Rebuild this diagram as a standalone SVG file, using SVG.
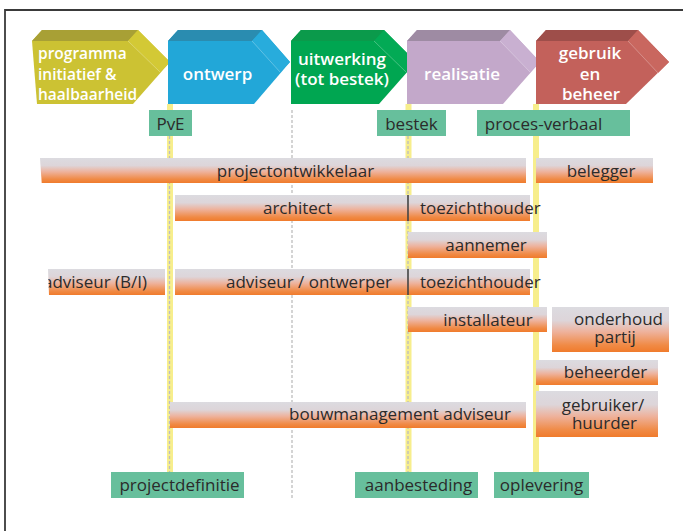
<svg xmlns="http://www.w3.org/2000/svg" width="683" height="531" viewBox="0 0 683 531">
<style>
.t{font-family:"Open Sans","Noto Sans","DejaVu Sans",sans-serif;font-size:17px;fill:#2b2b2b}
.w{font-family:"Open Sans","Noto Sans","DejaVu Sans",sans-serif;font-size:17px;fill:#ffffff;font-weight:600}
.m{text-anchor:middle}
.e{text-anchor:end}
.lbl{fill:#67bf9c}
.bar{fill:url(#g)}
.yl{stroke:#f7ee8c;stroke-width:6;fill:none}
.dl{stroke:#bdbdbd;stroke-width:1.3;stroke-dasharray:3 2;fill:none}
.sep{stroke:#444;stroke-width:1.6}
.fl{stroke:#ffffff;stroke-opacity:0.35;stroke-width:0.8;fill:none}
</style>
<defs>
<linearGradient id="g" x1="0" y1="0" x2="0" y2="1">
<stop offset="0" stop-color="#dcdbe0"/>
<stop offset="0.3" stop-color="#ddd5d9"/>
<stop offset="0.55" stop-color="#eeb29c"/>
<stop offset="0.85" stop-color="#f08a45"/>
<stop offset="1" stop-color="#f07b2c"/>
</linearGradient>
<clipPath id="cb"><polygon points="48,269 165,269 165,295 49,295"/></clipPath>
</defs>
<rect width="683" height="531" fill="#ffffff"/>
<path d="M5,531 V10 H683" fill="none" stroke="#3a3a3a" stroke-width="1.8"/>

<g id="phase1">
<polygon points="32,41 42,30 138,30 170,62 133,104 37,104" fill="#ccc233"/>
<polygon points="32,41 42,30 138,30 128,41" fill="#a8a035"/>
<polygon points="128,41 138,30 170,62 160,72" fill="#d3c935"/>
<line x1="128" y1="41" x2="160" y2="72" class="fl"/>
<text class="w" style="font-size:15.5px" x="38" y="59">programma</text>
<text class="w" style="font-size:15.5px" x="38" y="79.5">initiatief &amp;</text>
<text class="w" style="font-size:15.5px" x="38" y="100">haalbaarheid</text>
</g>
<g id="phase2">
<polygon points="168,41 178,30 262,30 290,62 254,104 168,104" fill="#22a7d8"/>
<polygon points="168,41 178,30 262,30 252,41" fill="#2a8cb0"/>
<polygon points="252,41 262,30 290,62 280,72" fill="#28acdc"/>
<line x1="252" y1="41" x2="280" y2="72" class="fl"/>
<text class="w m" x="217.5" y="80">ontwerp</text>
</g>
<g id="phase3">
<polygon points="291,41 301,30 384,30 416,62 379,104 291,104" fill="#00a651"/>
<polygon points="291,41 301,30 384,30 374,41" fill="#0b9a4b"/>
<polygon points="374,41 384,30 416,62 406,72" fill="#03aa55"/>
<line x1="374" y1="41" x2="406" y2="72" class="fl"/>
<text class="w m" x="342" y="65">uitwerking</text>
<text class="w m" x="342" y="85">(tot bestek)</text>
</g>
<g id="phase4">
<polygon points="407,41 417,30 510,30 540,62 503,104 407,104" fill="#c3a8ca"/>
<polygon points="407,41 417,30 510,30 500,41" fill="#9e8ba3"/>
<polygon points="500,41 510,30 540,62 530,72" fill="#c9b0d1"/>
<line x1="500" y1="41" x2="530" y2="72" class="fl"/>
<text class="w m" x="462" y="80">realisatie</text>
</g>
<g id="phase5">
<polygon points="536,41 546,30 638,30 669,62 626,104 536,104" fill="#c3615b"/>
<polygon points="536,41 546,30 638,30 628,41" fill="#9e4e4a"/>
<polygon points="628,41 638,30 669,62 658,73" fill="#c9675f"/>
<line x1="628" y1="41" x2="658" y2="73" class="fl"/>
<text class="w m" x="590" y="59">gebruik</text>
<text class="w m" x="590" y="79.5">en</text>
<text class="w m" x="591" y="100">beheer</text>
</g>

<g id="connectors">
<line x1="170" y1="104" x2="170" y2="472" class="yl"/>
<line x1="169.5" y1="136" x2="169.5" y2="472" class="dl"/>
<line x1="408.5" y1="104" x2="408.5" y2="472" class="yl"/>
<line x1="408" y1="136" x2="408" y2="472" class="dl"/>
<line x1="536" y1="104" x2="536" y2="472" class="yl"/>
<line x1="292" y1="110" x2="292" y2="498" class="dl"/>
</g>

<g id="PvE"><rect class="lbl" x="149" y="110" width="43" height="26"/><text class="t m" x="170.5" y="129.5">PvE</text></g>
<g id="bestek"><rect class="lbl" x="377" y="110" width="69" height="26"/><text class="t m" x="411.5" y="129.5">bestek</text></g>
<g id="proces-verbaal"><rect class="lbl" x="477" y="110" width="153" height="26"/><text class="t m" x="543.5" y="129.5">proces-verbaal</text></g>

<g id="projectontwikkelaar"><polygon class="bar" points="40,158 526,158 526,183 41.7,183"/><text class="t m" x="295.5" y="177">projectontwikkelaar</text></g>
<g id="belegger"><rect class="bar" x="536" y="158" width="117" height="25"/><text class="t m" x="601" y="177">belegger</text></g>
<g id="architect"><rect class="bar" x="175" y="195" width="233" height="26"/><text class="t m" x="297.5" y="214">architect</text></g>
<g id="toezichthouder1"><rect class="bar" x="408" y="195" width="122" height="26"/><line class="sep" x1="408" y1="195" x2="408" y2="221"/><text class="t" x="420" y="214">toezichthouder</text></g>
<g id="aannemer"><rect class="bar" x="408" y="232" width="139" height="26"/><text class="t m" x="486" y="251">aannemer</text></g>
<g id="adviseurBI"><polygon class="bar" points="48,269 165,269 165,295 49,295"/><text class="t e" x="147" y="288" clip-path="url(#cb)">adviseur (B/I)</text></g>
<g id="adviseur-ontwerper"><rect class="bar" x="175" y="269" width="233" height="26"/><text class="t e" x="392" y="288">adviseur / ontwerper</text></g>
<g id="toezichthouder2"><rect class="bar" x="408" y="269" width="122" height="26"/><line class="sep" x1="408" y1="269" x2="408" y2="295"/><text class="t" x="420" y="288">toezichthouder</text></g>
<g id="installateur"><rect class="bar" x="408" y="307" width="139" height="25"/><text class="t m" x="488" y="325.5">installateur</text></g>
<g id="onderhoudpartij"><rect class="bar" x="552" y="307" width="117" height="45"/><text class="t m" x="618.5" y="325">onderhoud</text><text class="t m" x="615" y="343">partij</text></g>
<g id="beheerder"><rect class="bar" x="536" y="360" width="122" height="25"/><text class="t m" x="605.5" y="377.5">beheerder</text></g>
<g id="gebruiker-huurder"><rect class="bar" x="536" y="391" width="122" height="46"/><text class="t m" x="603" y="411">gebruiker/</text><text class="t m" x="604.5" y="429">huurder</text></g>
<g id="bouwmanagement"><rect class="bar" x="170" y="402" width="356" height="26"/><text class="t e" x="511" y="419.5">bouwmanagement adviseur</text></g>

<g id="projectdefinitie"><rect class="lbl" x="111" y="472" width="133" height="26"/><text class="t m" x="179.5" y="491">projectdefinitie</text></g>
<g id="aanbesteding"><rect class="lbl" x="355" y="472" width="123" height="26"/><text class="t m" x="418.5" y="491">aanbesteding</text></g>
<g id="oplevering"><rect class="lbl" x="494" y="472" width="95" height="26"/><text class="t m" x="541.5" y="491">oplevering</text></g>
</svg>
